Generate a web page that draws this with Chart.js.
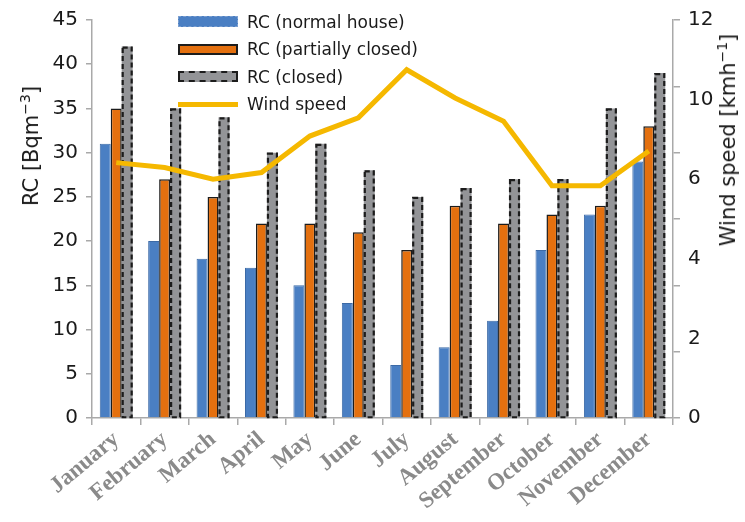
<!DOCTYPE html>
<html>
<head>
<meta charset="utf-8">
<script src="https://cdn.jsdelivr.net/npm/chart.js@4.4.0/dist/chart.umd.min.js"></script>
<style>
  html, body { margin: 0; padding: 0; background: #fff; }
  #wrap { position: relative; width: 745px; height: 522px; }
  .ytitle {
    position: absolute;
    font-family: "DejaVu Sans", sans-serif;
    font-size: 21px;
    color: #1a1a1a;
    white-space: nowrap;
    transform: translate(-50%, -50%) rotate(-90deg);
  }
  .ytitle sup { font-size: 14px; }
  #legend {
    position: absolute;
    left: 178px;
    top: 8px;
    font-family: "DejaVu Sans", sans-serif;
    font-size: 17px;
    color: #1a1a1a;
  }
  .item { display: flex; align-items: center; height: 27.5px; }
  .swatch { width: 60px; box-sizing: border-box; margin-right: 9px; }
</style>
</head>
<body>
<div id="wrap">
  <canvas id="chart" width="745" height="522"></canvas>
  <div class="ytitle" style="left:30px; top:146px;">RC [Bqm<sup>−3</sup>]</div>
  <div class="ytitle" style="left:727px; top:140px;">Wind speed [kmh<sup>−1</sup>]</div>
  <div id="legend"></div>
</div>
<script>
// monthly values
const months = ["January", "February", "March", "April", "May", "June",
  "July", "August", "September", "October", "November", "December"];
const rcNormal = [31, 20, 18, 17, 15, 13, 6, 8, 11, 19, 23, 29];
const rcPartial = [35, 27, 25, 22, 22, 21, 19, 24, 22, 23, 24, 33];
const rcClosed = [42, 35, 34, 30, 31, 28, 25, 26, 27, 27, 35, 39];
const windSpeed = [7.7, 7.55, 7.2, 7.4, 8.5, 9.05, 10.5, 9.65, 8.95, 7.0, 7.0, 8.05];
// the right-hand labels as printed in the figure
const windTickLabels = ["0", "2", "4", "6", "10", "12"];

const axisGray = "#a9a9a9";
const numFont = { family: "DejaVu Sans", size: 20 };

// Chart.js bars have no dashed border, so stroke it after that dataset is drawn
const dashedBars = {
  id: "dashedBars",
  afterDatasetDraw(chart, args) {
    const ds = chart.data.datasets[args.index];
    if (!ds.dashed) return;
    const ctx = chart.ctx;
    ctx.save();
    ctx.strokeStyle = "#1c1c1c";
    ctx.lineWidth = 2.2;
    ctx.setLineDash([5, 3]);
    args.meta.data.forEach((bar) => {
      const { x, y, base, width } = bar.getProps(["x", "y", "base", "width"], true);
      ctx.strokeRect(x - width / 2 + 1, y + 1, width - 2, base - y - 1);
    });
    ctx.restore();
  },
};

const chart = new Chart(document.getElementById("chart"), {
  type: "bar",
  data: {
    labels: months,
    datasets: [
      {
        label: "RC (normal house)",
        data: rcNormal,
        backgroundColor: "#4a7fc3",
        borderColor: "#3c6aa6",
        borderWidth: 1,
        yAxisID: "y",
        order: 1,
      },
      {
        label: "RC (partially closed)",
        data: rcPartial,
        backgroundColor: "#e4700f",
        borderColor: "#1c1c1c",
        borderWidth: 1.5,
        yAxisID: "y",
        order: 1,
      },
      {
        label: "RC (closed)",
        data: rcClosed,
        backgroundColor: "#939497",
        borderWidth: 0,
        dashed: true,
        yAxisID: "y",
        order: 1,
      },
      {
        type: "line",
        label: "Wind speed",
        data: windSpeed,
        borderColor: "#f5b800",
        borderWidth: 5,
        pointRadius: 0,
        tension: 0,
        yAxisID: "y1",
        order: 0,
      },
    ],
  },
  options: {
    responsive: false,
    animation: false,
    layout: { padding: { top: 16, left: 0, right: 0, bottom: 0 } },
    datasets: {
      bar: { categoryPercentage: 0.68, barPercentage: 1.0 },
    },
    plugins: {
      legend: { display: false },
      tooltip: { enabled: false },
    },
    scales: {
      x: {
        grid: { drawOnChartArea: false, color: axisGray, tickLength: 7, lineWidth: 1.5 },
        border: { color: axisGray, width: 1.5 },
        ticks: {
          color: "#8a8a8a",
          font: { family: "Liberation Serif", size: 23, weight: "bold" },
          minRotation: 40,
          maxRotation: 40,
          padding: 1,
        },
        afterFit: (s) => { s.height = 104; },
      },
      y: {
        position: "left",
        min: 0,
        max: 45,
        grid: { drawOnChartArea: false, color: axisGray, tickLength: 6, lineWidth: 1.5 },
        border: { color: axisGray, width: 1.5 },
        ticks: { stepSize: 5, color: "#1a1a1a", font: numFont, padding: 8 },
        afterFit: (s) => { s.width = 92; },
      },
      y1: {
        position: "right",
        min: 0,
        max: 12,
        grid: { drawOnChartArea: false, color: axisGray, tickLength: 7, lineWidth: 1.5 },
        border: { color: axisGray, width: 1.5 },
        ticks: { stepSize: 2, display: false },
        afterFit: (s) => { s.width = 8; },
      },
      y2: {
        position: "right",
        min: 0,
        max: 10,
        grid: { display: false, drawTicks: false },
        border: { display: false },
        ticks: {
          stepSize: 2,
          color: "#1a1a1a",
          font: numFont,
          padding: 7,
          callback: (v, i) => windTickLabels[i],
        },
        afterFit: (s) => { s.width = 64; },
      },
    },
  },
  plugins: [dashedBars],
});

// legend built from the datasets
const legend = document.getElementById("legend");
chart.data.datasets.forEach((ds) => {
  const item = document.createElement("div");
  item.className = "item";
  const sw = document.createElement("div");
  sw.className = "swatch";
  if (ds.type === "line") {
    sw.style.height = "5px";
    sw.style.background = ds.borderColor;
  } else {
    sw.style.height = "11px";
    sw.style.background = ds.backgroundColor;
    sw.style.border = ds.dashed ? "2px dashed #1c1c1c"
      : ds.borderWidth > 1 ? "2px solid #1c1c1c" : "1px dashed #7b9fd0";
  }
  const txt = document.createElement("span");
  txt.textContent = ds.label;
  item.appendChild(sw);
  item.appendChild(txt);
  legend.appendChild(item);
});
</script>
</body>
</html>
